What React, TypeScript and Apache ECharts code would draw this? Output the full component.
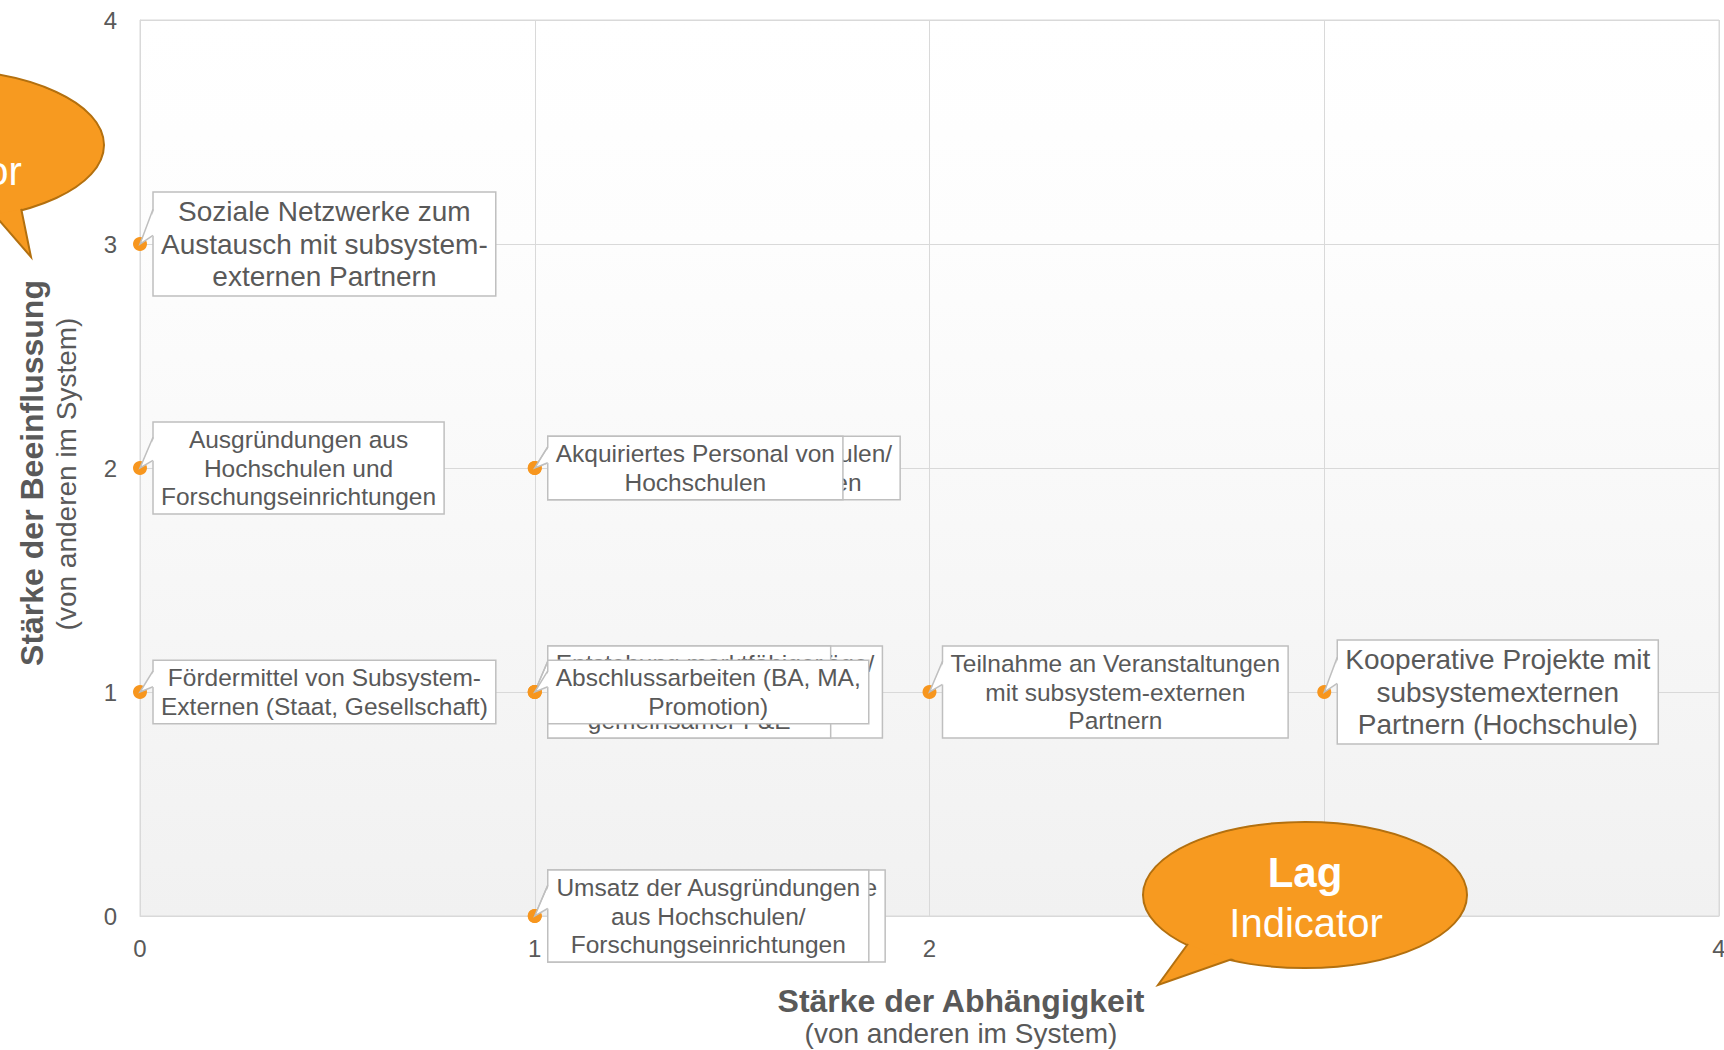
import React, { useEffect, useRef } from "react";
import * as echarts from "echarts";

// ---------- data ----------
const indicatorNames: string[] = [
  "Soziale Netzwerke zum\nAustausch mit subsystem-\nexternen Partnern",
  "Ausgründungen aus\nHochschulen und\nForschungseinrichtungen",
  "Fördermittel von Subsystem-\nExternen (Staat, Gesellschaft)",
  "Absolventen von Hochschulen/\nForschungseinrichtungen",
  "Akquiriertes Personal von\nHochschulen",
  "Gemeinsame Projektanträge/\nFörderanträge mit\nPartnern",
  "Entstehung marktfähiger\nProdukte aus\ngemeinsamer F&E",
  "Abschlussarbeiten (BA, MA,\nPromotion)",
  "Anzahl gemeinsamer Patente\nund Lizenzen mit\nPartnern",
  "Umsatz der Ausgründungen\naus Hochschulen/\nForschungseinrichtungen",
  "Teilnahme an Veranstaltungen\nmit subsystem-externen\nPartnern",
  "Kooperative Projekte mit\nsubsystemexternen\nPartnern (Hochschule)",
];
// Stärke der Abhängigkeit (x)
const dependence: number[] = [0, 0, 0, 1, 1, 1, 1, 1, 1, 1, 2, 3];
// Stärke der Beeinflussung (y)
const influence: number[] = [3, 2, 1, 2, 2, 1, 1, 1, 0, 0, 1, 1];

const axisMin = 0;
const axisMax = 4;
const axisStep = 1;

const xTitle = "Stärke der Abhängigkeit";
const yTitle = "Stärke der Beeinflussung";
const axisSubtitle = "(von anderen im System)";
const lagWord = "Lag";
const leadWord = "Lead";
const indicatorWord = "Indicator";

// ---------- styles ----------
const labelFontSizes: number[] = [28, 24.5, 24.5, 24.5, 24.5, 24.5, 24.5, 24.5, 24.5, 24.5, 24.5, 28];
const FONT = '"Liberation Sans", Arial, Helvetica, sans-serif';
const TEXT = "#595959";
const GRIDC = "#d9d9d9";
const BOXC = "#bfbfbf";
const MARK = "#F7961E";
const BUBBLE = "#F79A20";
const BUBBLE_STROKE = "#B3700F";

export default function App() {
  const ref = useRef<HTMLDivElement>(null);

  useEffect(() => {
    if (!ref.current) return;
    const chart = echarts.init(ref.current, null, { renderer: "svg" });
    const canvas = document.createElement("canvas");
    const ctx = canvas.getContext("2d") as CanvasRenderingContext2D;
    const measure = (t: string, fs: number) => {
      ctx.font = `${fs}px ${FONT}`;
      return ctx.measureText(t).width;
    };

    const renderItem = (_params: any, api: any) => {
      const i = api.value(2);
      const pt = api.coord([api.value(0), api.value(1)]);
      const px = pt[0];
      const py = pt[1];
      const fs = labelFontSizes[i];
      const lh = fs * 1.157;
      const lines = indicatorNames[i].split("\n");
      const tw = Math.max(...lines.map((l) => measure(l, fs)));
      const w = tw + 16;
      const h = lines.length * lh + 7;
      const bl = px + 13;
      const top = py - h / 2;
      const b1 = top + h / 6;
      const b2 = top + (5 * h) / 12;
      const children: any[] = [
        { type: "circle", shape: { cx: px, cy: py, r: 7 }, style: { fill: MARK } },
        {
          type: "rect",
          shape: { x: bl, y: top, width: w, height: h },
          style: { fill: "#ffffff", stroke: BOXC, lineWidth: 1.5 },
        },
        {
          type: "polygon",
          shape: { points: [[px, py], [bl + 1.5, b1], [bl + 1.5, b2]] },
          style: { fill: "#ffffff" },
        },
        {
          type: "polyline",
          shape: { points: [[bl, b1], [px, py], [bl, b2]] },
          style: { fill: null, stroke: BOXC, lineWidth: 1.5 },
        },
      ];
      lines.forEach((l, k) => {
        children.push({
          type: "text",
          x: bl + w / 2,
          y: top + 3.5 + lh * (k + 0.5),
          style: {
            text: l,
            align: "center",
            verticalAlign: "middle",
            fontSize: fs,
            fontFamily: FONT,
            fill: TEXT,
          },
        });
      });
      return { type: "group", children };
    };

    const axisCommon = {
      type: "value",
      min: axisMin,
      max: axisMax,
      interval: axisStep,
      axisLine: { show: true, lineStyle: { color: GRIDC, width: 1 } },
      axisTick: { show: false },
      splitLine: { show: true, lineStyle: { color: GRIDC, width: 1 } },
    };

    const bubbleTextStyle = (text: string, size: number, bold: boolean) => ({
      text,
      fontSize: size,
      fontWeight: bold ? "bold" : "normal",
      fontFamily: FONT,
      fill: "#ffffff",
      align: "center",
      verticalAlign: "middle",
    });

    const option: any = {
      animation: false,
      backgroundColor: "#ffffff",
      grid: {
        left: 140,
        right: 5,
        top: 20,
        bottom: 134,
        containLabel: false,
        outerBoundsMode: "none",
        show: true,
        borderColor: GRIDC,
        borderWidth: 1,
        backgroundColor: new echarts.graphic.LinearGradient(0, 0, 0, 1, [
          { offset: 0, color: "#ffffff" },
          { offset: 0.25, color: "#fdfdfd" },
          { offset: 1, color: "#f1f1f1" },
        ]),
      },
      xAxis: {
        ...axisCommon,
        axisLabel: { fontSize: 24, color: TEXT, fontFamily: FONT, margin: 20 },
      },
      yAxis: {
        ...axisCommon,
        axisLabel: { fontSize: 24, color: TEXT, fontFamily: FONT, margin: 23 },
      },
      series: [
        {
          type: "custom",
          clip: false,
          z: 3,
          renderItem,
          data: dependence.map((x, i) => [x, influence[i], i]),
        },
      ],
      graphic: [
        // axis titles
        {
          type: "text", z: 100, x: 961, y: 1001,
          style: { text: xTitle, fontSize: 32, fontWeight: "bold", fontFamily: FONT, fill: TEXT, align: "center", verticalAlign: "middle" },
        },
        {
          type: "text", z: 100, x: 961, y: 1033,
          style: { text: axisSubtitle, fontSize: 28, fontFamily: FONT, fill: TEXT, align: "center", verticalAlign: "middle" },
        },
        {
          type: "text", z: 100, x: 32, y: 473, rotation: Math.PI / 2,
          style: { text: yTitle, fontSize: 32, fontWeight: "bold", fontFamily: FONT, fill: TEXT, align: "center", verticalAlign: "middle" },
        },
        {
          type: "text", z: 100, x: 66, y: 474, rotation: Math.PI / 2,
          style: { text: axisSubtitle, fontSize: 28, fontFamily: FONT, fill: TEXT, align: "center", verticalAlign: "middle" },
        },
        // Lag bubble
        {
          type: "ellipse", z: 100,
          shape: { cx: 1305, cy: 895, rx: 162, ry: 73 },
          style: { fill: BUBBLE, stroke: BUBBLE_STROKE, lineWidth: 2 },
        },
        {
          type: "polygon", z: 101,
          shape: { points: [[1190, 941], [1158, 985], [1238, 957]] },
          style: { fill: BUBBLE, stroke: BUBBLE_STROKE, lineWidth: 2 },
        },
        {
          type: "ellipse", z: 102,
          shape: { cx: 1305, cy: 895, rx: 160.5, ry: 71.5 },
          style: { fill: BUBBLE },
        },
        { type: "text", z: 103, x: 1305, y: 872, style: bubbleTextStyle(lagWord, 42, true) },
        { type: "text", z: 103, x: 1306, y: 923, style: bubbleTextStyle(indicatorWord, 40, false) },
        // Lead bubble
        {
          type: "ellipse", z: 100,
          shape: { cx: -59, cy: 145, rx: 163, ry: 75 },
          style: { fill: BUBBLE, stroke: BUBBLE_STROKE, lineWidth: 2 },
        },
        {
          type: "polygon", z: 101,
          shape: { points: [[20, 203], [31, 257], [-8, 212]] },
          style: { fill: BUBBLE, stroke: BUBBLE_STROKE, lineWidth: 2 },
        },
        {
          type: "ellipse", z: 102,
          shape: { cx: -59, cy: 145, rx: 161.5, ry: 73.5 },
          style: { fill: BUBBLE },
        },
        { type: "text", z: 103, x: -59, y: 122, style: bubbleTextStyle(leadWord, 42, true) },
        { type: "text", z: 103, x: -55, y: 171, style: bubbleTextStyle(indicatorWord, 40, false) },
      ],
    };

    chart.setOption(option);
    return () => chart.dispose();
  }, []);

  return (
    <div
      ref={ref}
      style={{ position: "absolute", left: 0, top: 0, width: 1724, height: 1050 }}
    />
  );
}
